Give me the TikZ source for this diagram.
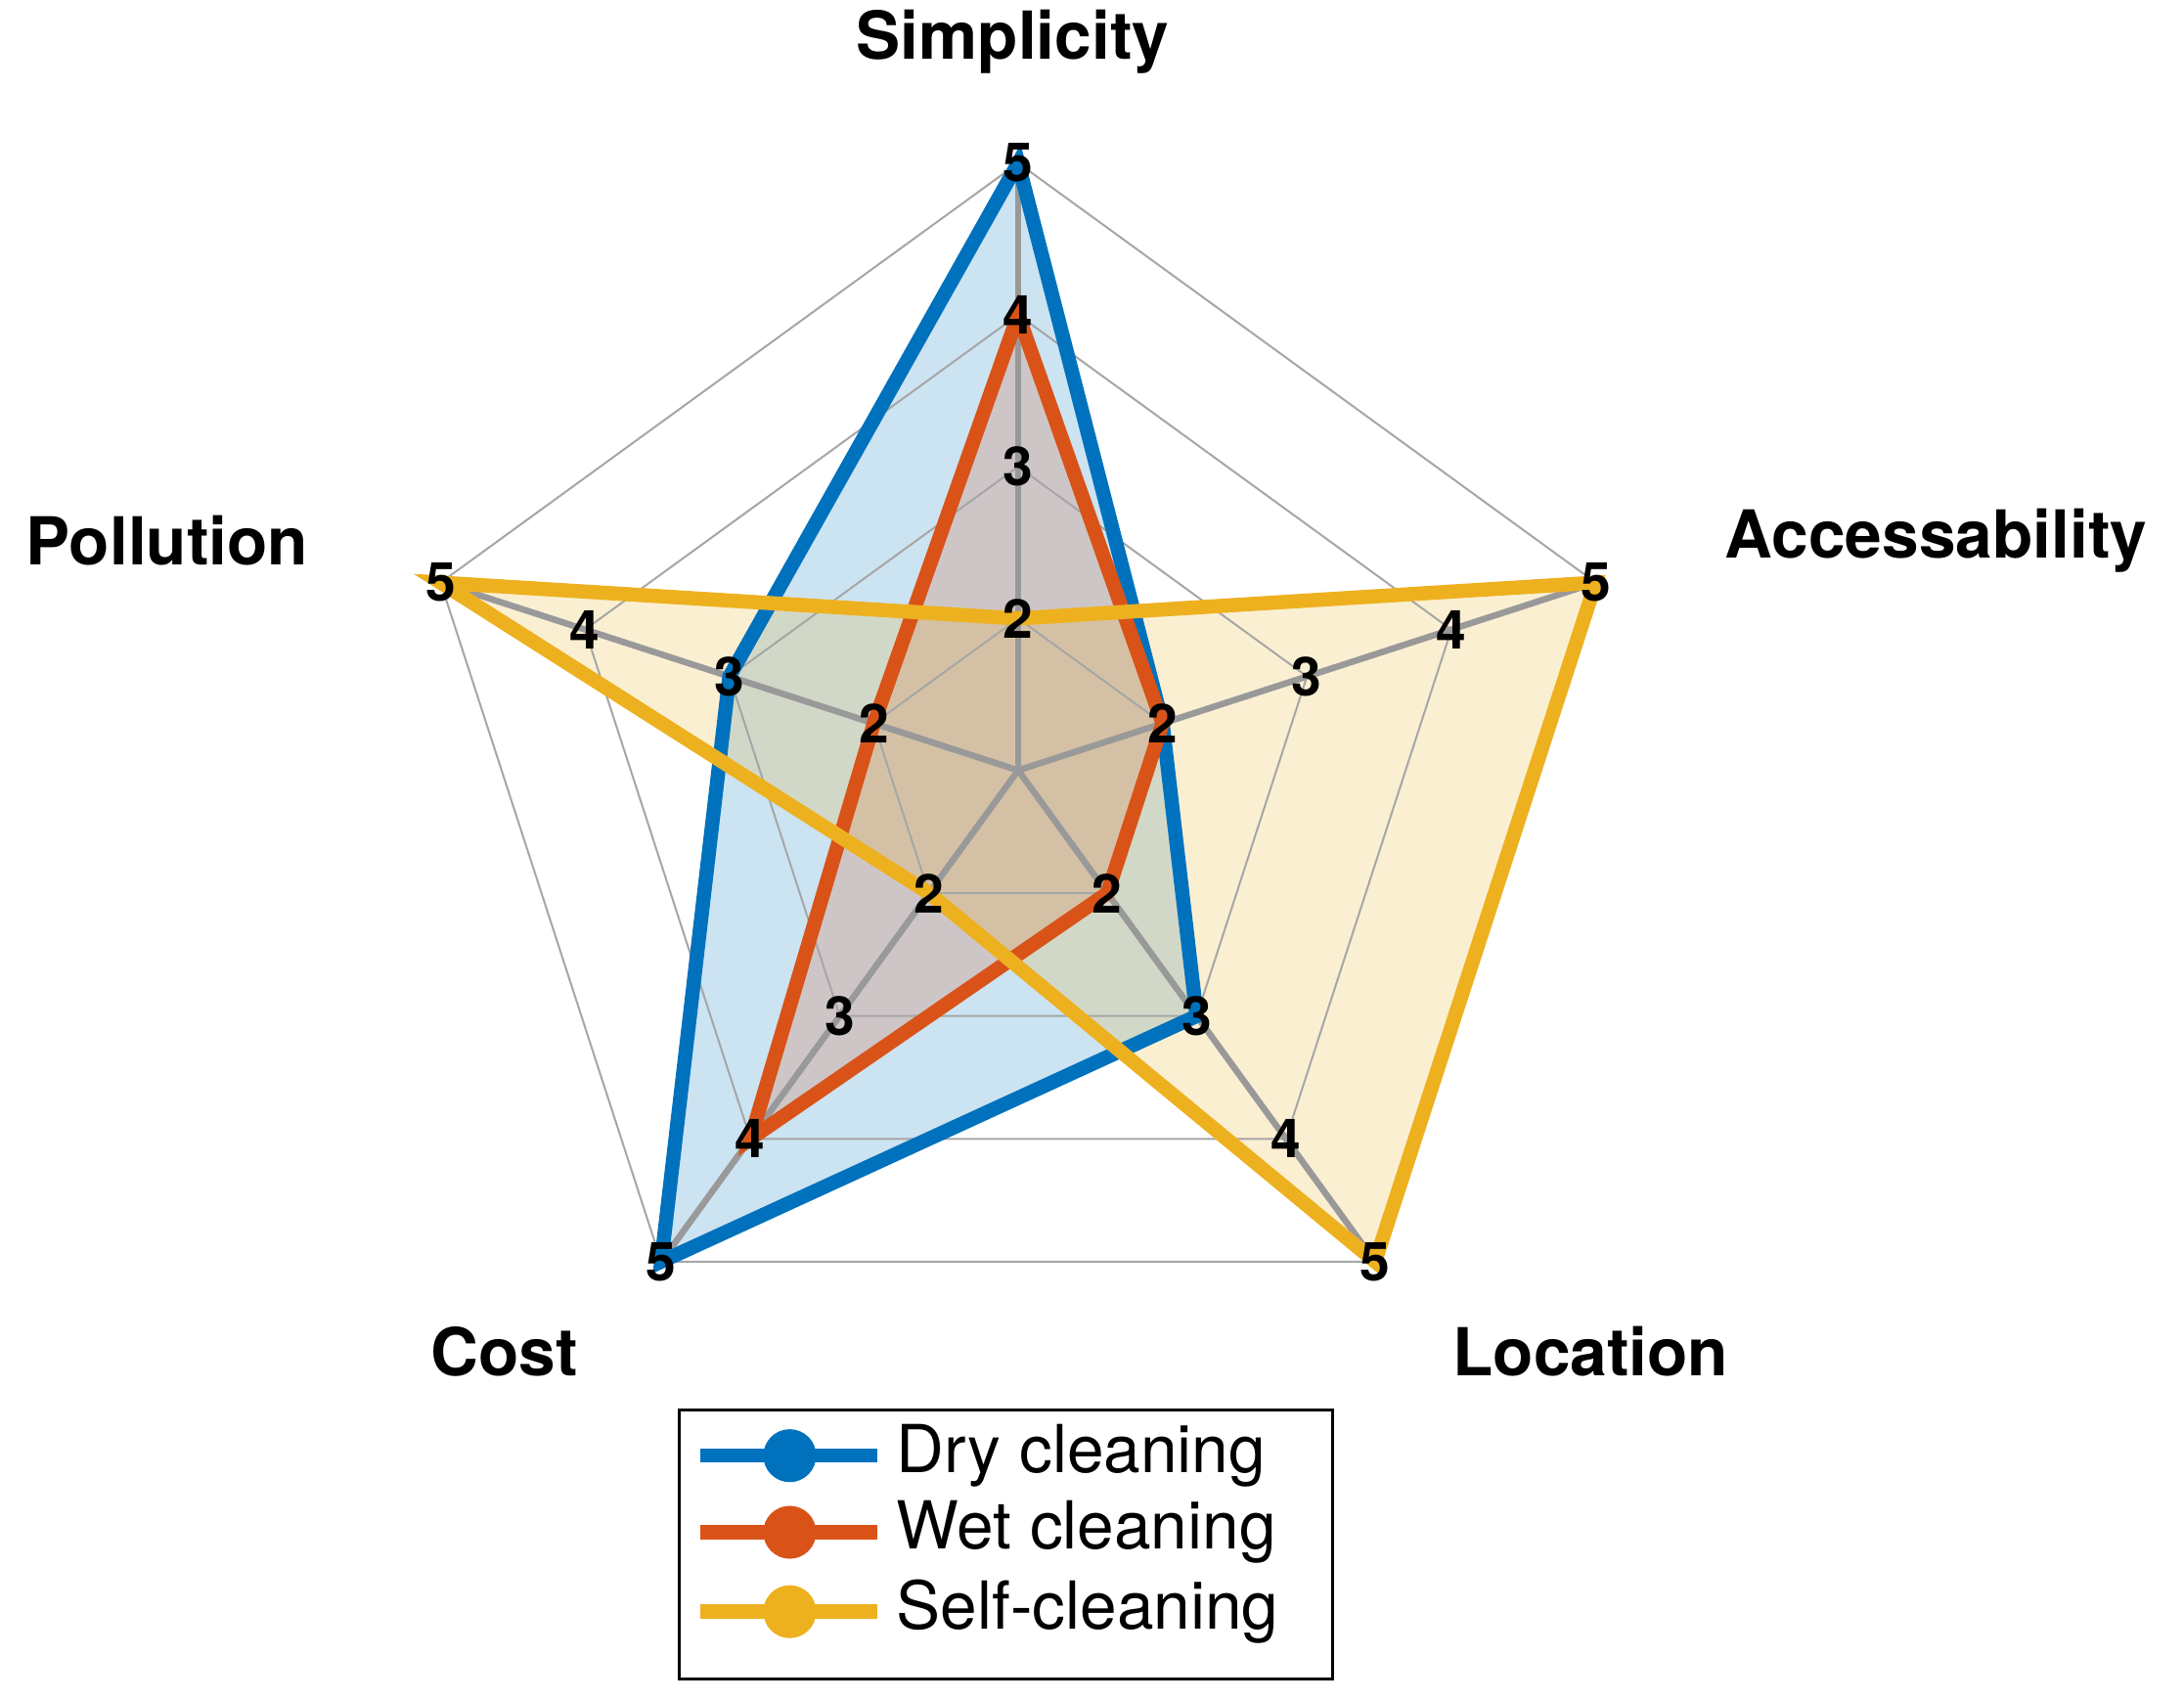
\documentclass[tikz,border=0pt]{standalone}
\usepackage{fontspec}
\setmainfont{TeX Gyre Heros}
\usetikzlibrary{calc}
\definecolor{cb}{RGB}{0,114,189}
\definecolor{cr}{RGB}{217,83,25}
\definecolor{cy}{RGB}{237,177,32}
\begin{document}
\begin{tikzpicture}[x=0.01cm,y=-0.01cm,
  grid/.style={gray!70,line width=0.4pt},
  spoke/.style={gray!80,line width=1.3pt},
  data/.style={line width=2.9pt,line join=miter},
  num/.style={font=\bfseries\fontsize{11}{12}\selectfont,inner sep=0pt},
  ax/.style={font=\bfseries\fontsize{13.5}{15}\selectfont}]
\useasboundingbox (0,0) rectangle (1568,1221);
\coordinate (O) at (731,553);
\foreach \n/\a in {S/90,A/18,L/-54,C/-126,P/162}{
  \foreach \v in {2,3,4,5}{
    \coordinate (\n\v) at ($(O)+({cos(\a)*(\v-1)*109},{-sin(\a)*(\v-1)*109})$);
  }
}
\fill[cb,opacity=0.2] (S5)--(A2)--(L3)--(C5)--(P3)--cycle;
\fill[cr,opacity=0.2] (S4)--(A2)--(L2)--(C4)--(P2)--cycle;
\fill[cy,opacity=0.2] (S2)--(A5)--(L5)--(C2)--(P5)--cycle;
\foreach \v in {2,3,4,5}{\draw[grid] (S\v)--(A\v)--(L\v)--(C\v)--(P\v)--cycle;}
\foreach \n in {S,A,L,C,P}{\draw[spoke] (O)--(\n5);}
\draw[data,cb] (S5)--(A2)--(L3)--(C5)--(P3)--cycle;
\draw[data,cr] (S4)--(A2)--(L2)--(C4)--(P2)--cycle;
\draw[data,cy] (S2)--(A5)--(L5)--(C2)--(P5)--cycle;
\foreach \n in {S,A,L,C,P}{\foreach \v in {2,3,4,5}{\node[num] at (\n\v) {\v};}}
\node[ax] (tS) at (727,30) {Simplicity};
\node[ax] (tA) at (1390,388) {Accessability};
\node[ax] (tL) at (1142,970) {Location};
\node[ax] (tC) at (362,970) {Cost};
\node[ax] (tP) at (120,388) {Pollution};
\draw[black,line width=0.6pt] (488,1012) rectangle (957,1205);
\foreach \c/\y/\t in {cb/1045/Dry cleaning,cr/1100/Wet cleaning,cy/1157/Self-cleaning}{
  \draw[\c,line width=2.9pt] (503,\y)--(630,\y);
  \fill[\c] (567,\y) circle (19);
  \node[anchor=west,font=\fontsize{13.5}{15}\selectfont,inner sep=0pt] at (643,\y) {\t};
}
\end{tikzpicture}
\end{document}
